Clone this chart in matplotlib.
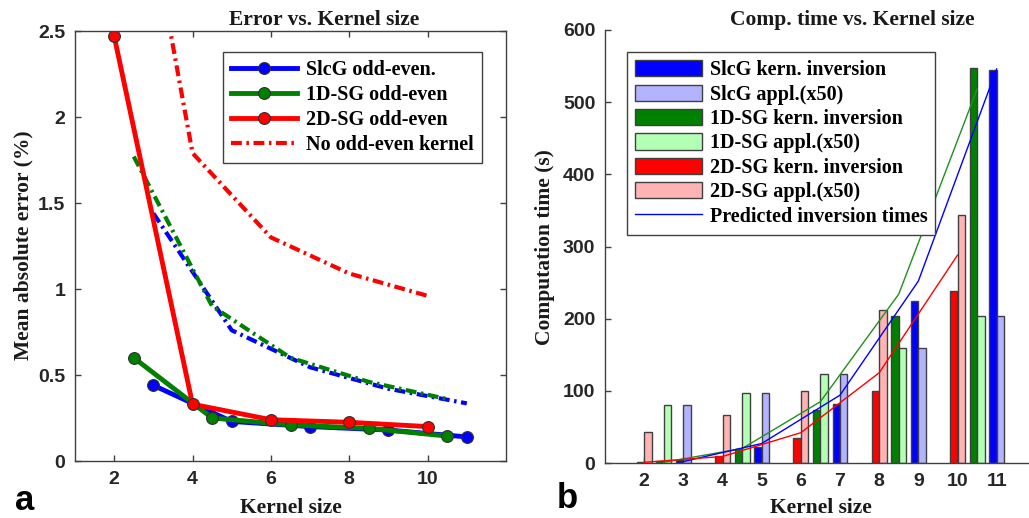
import numpy as np
import matplotlib
matplotlib.use("Agg")
import matplotlib.pyplot as plt
from matplotlib.patches import Patch
from matplotlib.lines import Line2D

# kernel sizes per method (positions on the x axis)
sizes_2d = [2, 4, 6, 8, 10]
sizes_1d = [2.5, 4.5, 6.5, 8.5, 10.5]
sizes_slcg = [3, 5, 7, 9, 11]

# panel a: mean absolute error (%)
err_slcg = [0.44, 0.23, 0.20, 0.18, 0.14]
err_1d = [0.60, 0.25, 0.21, 0.19, 0.145]
err_2d = [2.47, 0.33, 0.24, 0.225, 0.20]
err_slcg_noeo = [1.44, 0.76, 0.545, 0.42, 0.335]
err_1d_noeo = [1.77, 0.90, 0.60, 0.46, 0.36]
err_2d_noeo = [4.28, 1.79, 1.30, 1.09, 0.96]

# panel b: computation time (s)
inv_slcg = [4, 22, 82, 225, 544]
appl_slcg = [80, 97, 124, 159, 204]
inv_1d = [3, 19, 73, 204, 547]
appl_1d = [80, 97, 124, 159, 204]
inv_2d = [2, 10, 34, 100, 239]
appl_2d = [43, 66, 100, 212, 344]
pred_slcg = [2, 27, 94, 252, 546]
pred_1d = [1, 20, 85, 234, 518]
pred_2d = [1, 9, 42, 125, 288]

BLUE, GREEN, RED = "#0000ff", "#008000", "#ff0000"
LBLUE, LGREEN, LRED = "#b3b3ff", "#b3ffb3", "#ffb3b3"
EDGE = "#404040"
SERIF = "Liberation Serif"
SANS = "Liberation Sans"

W, H = 1029, 518
fig = plt.figure(figsize=(W / 100, H / 100), dpi=100)


def px(x0, y0, x1, y1):
    return [x0 / W, 1 - y1 / H, (x1 - x0) / W, (y1 - y0) / H]


def style_ticks(ax):
    for lab in ax.get_xticklabels() + ax.get_yticklabels():
        lab.set_fontfamily(SANS)
        lab.set_fontweight("bold")
        lab.set_fontsize(14)
        lab.set_color("#262626")
    for sp in ax.spines.values():
        sp.set_color(EDGE)
        sp.set_linewidth(1.0)


# ---------------- panel a ----------------
ax1 = fig.add_axes(px(75, 31, 506, 461))
dash = (0, (2.6, 1.1, 0.6, 1.1))
ax1.plot(sizes_slcg, err_slcg_noeo, color=BLUE, lw=3, linestyle=dash)
ax1.plot(sizes_1d, err_1d_noeo, color=GREEN, lw=3, linestyle=dash)
ax1.plot(sizes_2d, err_2d_noeo, color=RED, lw=3, linestyle=dash)

mk = dict(lw=3.5, marker="o", markersize=8.5, markeredgecolor="#303030", markeredgewidth=0.8)
l1, = ax1.plot(sizes_slcg, err_slcg, color=BLUE, markerfacecolor=BLUE, **mk)
l2, = ax1.plot(sizes_1d, err_1d, color=GREEN, markerfacecolor=GREEN, **mk)
l3, = ax1.plot(sizes_2d, err_2d, color=RED, markerfacecolor=RED, **mk)
l4 = Line2D([], [], color=RED, lw=3, linestyle=dash)

ax1.set_xlim(1, 12)
ax1.set_ylim(0, 2.5)
ax1.set_xticks([2, 4, 6, 8, 10])
ax1.set_xticklabels(["2", "4", "6", "8", "10"])
ax1.set_yticks([0, 0.5, 1, 1.5, 2, 2.5])
ax1.set_yticklabels(["0", "0.5", "1", "1.5", "2", "2.5"])
ax1.tick_params(direction="in", top=True, right=True, length=4, width=1,
                color=EDGE, pad=7)
style_ticks(ax1)

leg1 = ax1.legend([l1, l2, l3, l4],
                  ["SlcG odd-even.", "1D-SG odd-even", "2D-SG odd-even", "No odd-even kernel"],
                  loc="upper left", bbox_to_anchor=(0.343, 0.951), borderaxespad=0,
                  prop=dict(family=SERIF, weight="bold", size=14.5),
                  handlelength=3.3, handletextpad=0.45, labelspacing=0.25,
                  borderpad=0.4, fancybox=False, framealpha=1, edgecolor=EDGE)
leg1.get_frame().set_linewidth(1.0)

# ---------------- panel b ----------------
ax2 = fig.add_axes(px(605, 30, 1028, 463))
bw = 0.19
groups = [(sizes_2d, inv_2d, appl_2d, RED, LRED),
          (sizes_1d, inv_1d, appl_1d, GREEN, LGREEN),
          (sizes_slcg, inv_slcg, appl_slcg, BLUE, LBLUE)]
for xs, inv, appl, dark, light in groups:
    xs = np.array(xs, dtype=float)
    ax2.bar(xs - bw / 2, inv, width=bw, color=dark, edgecolor=EDGE, linewidth=1, zorder=2)
    ax2.bar(xs + bw / 2, appl, width=bw, color=light, edgecolor=EDGE, linewidth=1, zorder=2)

ax2.plot(sizes_1d, pred_1d, color="#209020", lw=1, zorder=3)
ax2.plot(sizes_slcg, pred_slcg, color=BLUE, lw=1, zorder=3)
ax2.plot(sizes_2d, pred_2d, color=RED, lw=1, zorder=3)

ax2.set_xlim(1, 11.8)
ax2.set_ylim(0, 600)
ax2.set_xticks(range(2, 12))
ax2.set_yticks(range(0, 601, 100))
ax2.spines["top"].set_visible(False)
ax2.spines["right"].set_visible(False)
ax2.tick_params(direction="in", length=4, width=1, color=EDGE, pad=7)
style_ticks(ax2)

handles = [Patch(facecolor=BLUE, edgecolor=EDGE), Patch(facecolor=LBLUE, edgecolor=EDGE),
           Patch(facecolor=GREEN, edgecolor=EDGE), Patch(facecolor=LGREEN, edgecolor=EDGE),
           Patch(facecolor=RED, edgecolor=EDGE), Patch(facecolor=LRED, edgecolor=EDGE),
           Line2D([], [], color=BLUE, lw=1)]
labels = ["SlcG kern. inversion", "SlcG appl.(x50)", "1D-SG kern. inversion",
          "1D-SG appl.(x50)", "2D-SG kern. inversion", "2D-SG appl.(x50)",
          "Predicted inversion times"]
leg2 = ax2.legend(handles, labels, loc="upper left", bbox_to_anchor=(0.052, 0.949),
                  borderaxespad=0, prop=dict(family=SERIF, weight="bold", size=14.5),
                  handlelength=3.3, handleheight=0.85, handletextpad=0.4,
                  labelspacing=0.22, borderpad=0.4, fancybox=False, framealpha=1,
                  edgecolor=EDGE)
leg2.get_frame().set_linewidth(1.0)

# ---------------- texts ----------------
tkw = dict(family=SERIF, weight="bold", size=15.5, color="#1a1a1a")
fig.text(324 / W, 1 - 25 / H, "Error vs. Kernel size", ha="center", va="baseline", **tkw)
fig.text(852 / W, 1 - 25 / H, "Comp. time vs. Kernel size", ha="center", va="baseline", **tkw)
fig.text(291 / W, 1 - 513 / H, "Kernel size", ha="center", va="baseline", **tkw)
fig.text(821 / W, 1 - 513 / H, "Kernel size", ha="center", va="baseline", **tkw)
fig.text(23 / W, 1 - 245 / H, "Mean absolute error (%)", ha="center", va="center",
         rotation=90, **tkw)
fig.text(545 / W, 1 - 247 / H, "Computation time (s)", ha="center", va="center",
         rotation=90, **tkw)
fig.text(15 / W, 1 - 510 / H, "a", family=SANS, weight="bold", size=25, va="baseline")
fig.text(557 / W, 1 - 508 / H, "b", family=SANS, weight="bold", size=25, va="baseline")

fig.savefig("out.png", dpi=100)
